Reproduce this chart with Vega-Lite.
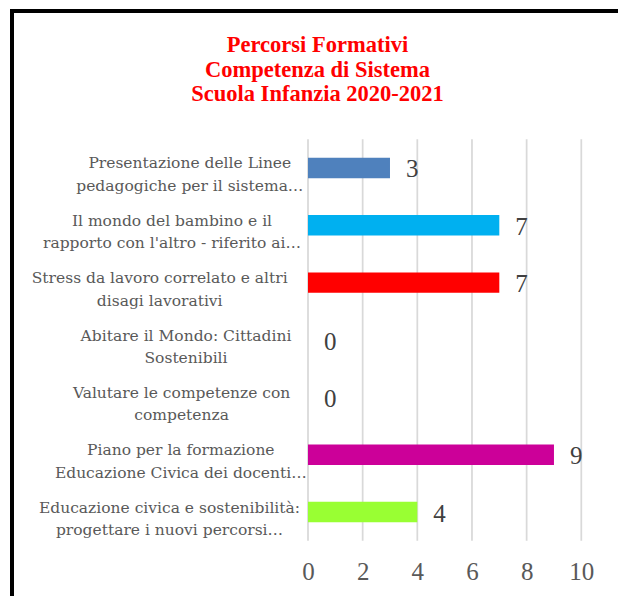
{
  "$schema": "https://vega.github.io/schema/vega-lite/v6.json",
  "width": 606,
  "height": 585,
  "autosize": "none",
  "padding": {"left": 12, "top": 11, "right": 0, "bottom": 0},
  "background": "#ffffff",
  "config": {
    "view": {"stroke": "#000000", "strokeWidth": 4, "strokeDash": [606, 1191, 585, 0], "strokeCap": "square"}
  },
  "title": {
    "text": ["Percorsi Formativi", "Competenza di Sistema", "Scuola Infanzia 2020-2021"],
    "color": "#FF0000",
    "font": "Liberation Serif",
    "fontSize": 22.5,
    "fontWeight": "bold",
    "anchor": "middle",
    "baseline": "alphabetic",
    "lineHeight": 24.8,
    "offset": -113,
    "frame": "group",
    "dx": 2.5
  },
  "encoding": {
    "x": {
      "field": "n",
      "type": "quantitative",
      "scale": {"domain": [0, 10], "range": [296, 569.3], "nice": false, "zero": true},
      "axis": {
        "title": null,
        "values": [0, 2, 4, 6, 8, 10],
        "domain": false,
        "ticks": false,
        "grid": false,
        "offset": -16.5,
        "labelPadding": 0,
        "labelFlush": false,
        "labelOverlap": false,
        "labelBaseline": "alphabetic",
        "labelFont": "Liberation Serif",
        "labelFontSize": 25,
        "labelColor": "#595959"
      }
    }
  },
  "layer": [
    {
      "data": {"values": [{"n": 0}, {"n": 2}, {"n": 4}, {"n": 6}, {"n": 8}, {"n": 10}]},
      "mark": {"type": "rule", "color": "#D9D9D9", "strokeWidth": 1.75},
      "encoding": {
        "y": {"datum": 0, "type": "quantitative", "scale": {"domain": [0, 1], "range": [128.3, 529.7], "nice": false, "zero": false}, "axis": null},
        "y2": {"datum": 1}
      }
    },
    {
      "data": {
        "values": [
          {"corso": "Presentazione delle Linee|pedagogiche per il sistema…", "n": 3},
          {"corso": "Il mondo del bambino e il|rapporto con l'altro - riferito ai…", "n": 7},
          {"corso": "Stress da lavoro correlato e altri|disagi lavorativi", "n": 7},
          {"corso": "Abitare il Mondo: Cittadini|Sostenibili", "n": 0},
          {"corso": "Valutare le competenze con|competenza", "n": 0},
          {"corso": "Piano per la formazione|Educazione Civica dei docenti…", "n": 9},
          {"corso": "Educazione civica e sostenibilità:|progettare i nuovi percorsi…", "n": 4}
        ]
      },
      "encoding": {
        "y": {
          "field": "corso",
          "type": "nominal",
          "sort": null,
          "scale": {"range": [128.3, 529.7], "paddingInner": 0.644, "paddingOuter": 0.322},
          "axis": {
            "title": null,
            "domain": false,
            "ticks": false,
            "grid": false,
            "offset": -294,
            "labelExpr": "split(datum.label, '|')",
            "labelAlign": "center",
            "labelBaseline": "middle",
            "labelFont": "DejaVu Serif",
            "labelFontSize": 15.5,
            "labelColor": "#595959",
            "labelLineHeight": 22.4,
            "labelLimit": 0,
            "labelOffset": -4.5,
            "labelPadding": {
              "condition": [
                {"test": "datum.index < 0.08", "value": 116.7},
                {"test": "datum.index < 0.25", "value": 134.5},
                {"test": "datum.index < 0.42", "value": 146.8},
                {"test": "datum.index < 0.58", "value": 120.5},
                {"test": "datum.index < 0.75", "value": 124.9},
                {"test": "datum.index < 0.92", "value": 125.7}
              ],
              "value": 137
            }
          }
        }
      },
      "layer": [
        {
          "mark": {"type": "bar"},
          "encoding": {
            "color": {
              "field": "corso",
              "type": "nominal",
              "sort": null,
              "scale": {"range": ["#4F81BD", "#00B0F0", "#FF0000", "#9BBB59", "#F79646", "#CC0099", "#99FF33"]},
              "legend": null
            }
          }
        },
        {
          "mark": {
            "type": "text",
            "align": "left",
            "baseline": "middle",
            "dx": 16,
            "dy": 1.5,
            "font": "Liberation Serif",
            "fontSize": 25,
            "color": "#404040"
          },
          "encoding": {
            "text": {"field": "n", "type": "quantitative"}
          }
        }
      ]
    }
  ],
  "resolve": {"scale": {"y": "independent"}}
}
